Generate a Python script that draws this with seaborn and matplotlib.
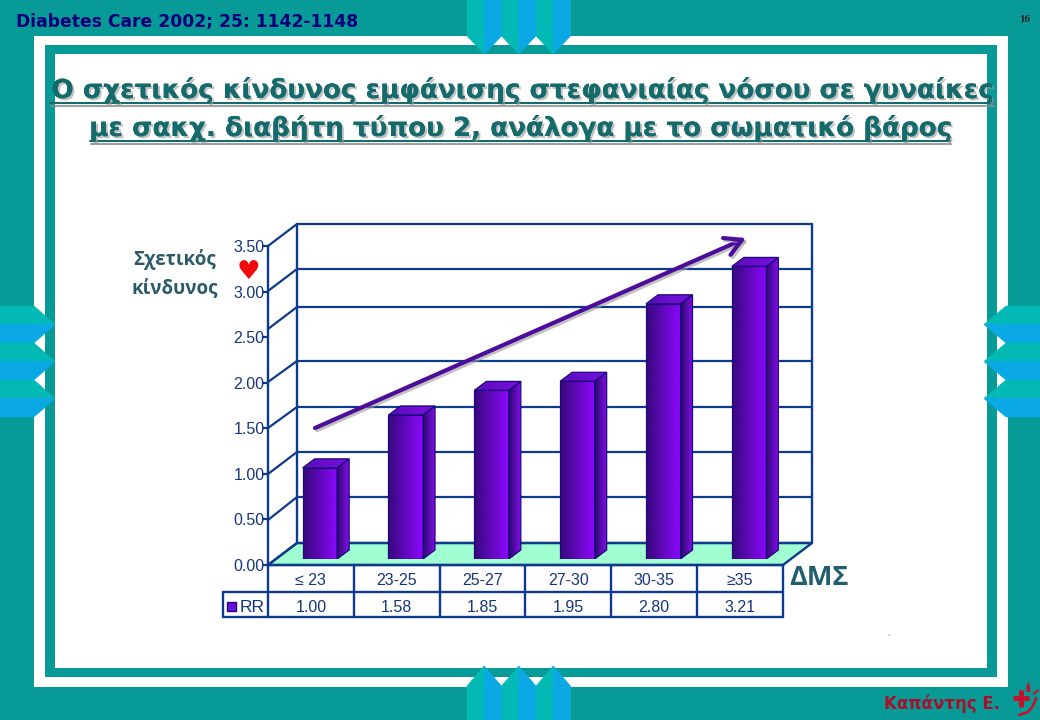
import numpy as np
import pandas as pd
import seaborn as sb
import matplotlib.pyplot as plt
import matplotlib.patheffects as pe
from matplotlib.colors import to_rgb
from matplotlib.patches import Polygon, Rectangle

# ### data ###
categories = ['\u2264 23', '23-25', '25-27', '27-30', '30-35', '\u226535']
rr_values = [1.00, 1.58, 1.85, 1.95, 2.80, 3.21]
y_ticks = [0.0, 0.5, 1.0, 1.5, 2.0, 2.5, 3.0, 3.5]
y_tick_labels = ['0.00', '0.50', '1.00', '1.50', '2.00', '2.50', '3.00', '3.50']
series_name = 'RR'
title_lines = ['Ο σχετικός κίνδυνος εμφάνισης στεφανιαίας νόσου σε γυναίκες',
               'με σακχ. διαβήτη τύπου 2, ανάλογα με το σωματικό βάρος']

W, H = 1040, 720
TEAL = '#079a96'
GREEN = '#02b9b5'
BLUE = '#0aa9e6'
NAVY = '#0d3a8c'
TEXT_BLUE = '#17357f'

sb.set_theme(style='white')
plt.rcParams['font.family'] = ['Liberation Sans', 'DejaVu Sans']

fig = plt.figure(figsize=(W / 100, H / 100), dpi=100, facecolor=TEAL)


def px_axes(left, top, right, bottom, zorder):
    return fig.add_axes([left / W, 1 - bottom / H, (right - left) / W, (bottom - top) / H],
                        zorder=zorder, facecolor='none')


def flat(points, color):
    bg.add_patch(Polygon(points, fc=color, ec=color, lw=0.4))


# ### slide background ###
bg = px_axes(0, 0, W, H, 0)
bg.set_xlim(0, W)
bg.set_ylim(H, 0)
bg.axis('off')

bg.add_patch(Rectangle((34, 36), 974, 651, fc='white', ec='none'))
bg.add_patch(Rectangle((45, 45), 952, 632, fc=TEAL, ec='none'))
bg.add_patch(Rectangle((54.5, 53.5), 932.5, 614.5, fc='white', ec='none'))
bg.add_patch(Rectangle((887.5, 634), 3, 2, fc='#dddddd', ec='none'))

# top and bottom pentagons
for left in [467, 501.5, 536]:
    mid = left + 17.25
    right = left + 34.5
    flat([(left, 0), (mid, 0), (mid, 54), (left, 36)], GREEN)
    flat([(mid, 0), (right, 0), (right, 36), (mid, 54)], BLUE)
    flat([(left, 720), (mid, 720), (mid, 666), (left, 686)], GREEN)
    flat([(mid, 720), (right, 720), (right, 686), (mid, 666)], BLUE)

# side pentagons
for top in [306, 343, 380]:
    mid = top + 18.5
    bot = top + 37
    flat([(0, top), (34, top), (55, mid), (0, mid)], GREEN)
    flat([(0, mid), (55, mid), (34, bot), (0, bot)], BLUE)
    flat([(1040, top), (1006, top), (984, mid), (1040, mid)], GREEN)
    flat([(1040, mid), (984, mid), (1006, bot), (1040, bot)], BLUE)

# ### 3d frame of the chart ###
back_px = [543, 497, 452, 407, 361, 307, 269, 224]
front_px = [565, 520, 474, 428, 382, 329, 291, 246]

bg.add_patch(Polygon([(268, 565), (297, 543), (812, 543), (783, 565)],
                     fc='#a0ffd0', ec=NAVY, lw=1.7, zorder=2))
for fp, bp in zip(front_px, back_px):
    bg.plot([268, 297], [fp, bp], color=NAVY, lw=1.6, zorder=3)
    bg.plot([297, 812], [bp, bp], color=NAVY, lw=1.6, zorder=3)
bg.plot([297, 297], [224, 543], color=NAVY, lw=1.7, zorder=3)
bg.plot([812, 812], [224, 543], color=NAVY, lw=1.7, zorder=3)

# ### axis with the ticks, front edge of the chart ###
ax = px_axes(268, 246, 783, 565, 1)
ax.set_xlim(-0.5, 5.5)
ax.set_ylim(0, 3.5)
ax.set_yticks(y_ticks)
ax.set_yticklabels(y_tick_labels, fontsize=11.5, color=TEXT_BLUE)
ax.set_xticks(range(len(categories)))
ax.set_xticklabels(categories, fontsize=11.5, color=TEXT_BLUE)
ax.tick_params(axis='y', length=4, width=1.6, color=NAVY, pad=-1.5, left=True)
ax.tick_params(axis='x', length=0, pad=6)
for name in ['top', 'right']:
    ax.spines[name].set_visible(False)
for name in ['left', 'bottom']:
    ax.spines[name].set_color(NAVY)
    ax.spines[name].set_linewidth(1.7)

# ### bars ###
ax_bar = px_axes(277, 240, 792, 559, 2)
data = pd.DataFrame({'bmi': categories, 'rr': rr_values})
sb.barplot(data=data, x='bmi', y='rr', width=0.402, color='#6a10c8', ax=ax_bar)
ax_bar.set_xlim(-0.5, 5.5)
ax_bar.set_ylim(0, 3.5)
ax_bar.axis('off')

depth_x = 12 / 85.83
depth_y = 9 / 91.14
EDGE = '#1c0a7c'


def gradient_face(points, c0, c1):
    points = np.array(points)
    ramp = np.linspace(0, 1, 64)[None, :, None]
    rgb = np.array(to_rgb(c0)) * (1 - ramp) + np.array(to_rgb(c1)) * ramp
    extent = [points[:, 0].min(), points[:, 0].max(), points[:, 1].min(), points[:, 1].max()]
    im = ax_bar.imshow(rgb, extent=extent, aspect='auto', zorder=3, interpolation='bilinear')
    outline = Polygon(points, fc='none', ec=EDGE, lw=0.9, zorder=4)
    ax_bar.add_patch(outline)
    im.set_clip_path(outline)


for bar in ax_bar.patches[:len(categories)]:
    x0 = bar.get_x()
    x1 = x0 + bar.get_width()
    top = bar.get_height()
    gradient_face([(x0, 0), (x1, 0), (x1, top), (x0, top)], '#36087a', '#8c08ff')
    gradient_face([(x1, 0), (x1 + depth_x, depth_y), (x1 + depth_x, top + depth_y), (x1, top)],
                  '#2c0a6c', '#8a0cf8')
    gradient_face([(x0, top), (x1, top), (x1 + depth_x, top + depth_y), (x0 + depth_x, top + depth_y)],
                  '#5c0cb8', '#7a10e4')
    bar.set_visible(False)

ax_bar.set_xlim(-0.5, 5.5)
ax_bar.set_ylim(0, 3.5)

# ### overlay: table, arrow, texts ###
over = px_axes(0, 0, W, H, 3)
over.set_xlim(0, W)
over.set_ylim(H, 0)
over.axis('off')

col_edges = [268 + 85.83 * i for i in range(len(categories) + 1)]
over.plot([268, 268], [565, 617], color=NAVY, lw=1.7)
over.plot([223, 783], [592, 592], color=NAVY, lw=1.7)
over.plot([223, 783], [617, 617], color=NAVY, lw=1.7)
over.plot([223, 223], [592, 617], color=NAVY, lw=1.7)
for edge in col_edges[1:]:
    over.plot([edge, edge], [565, 617], color=NAVY, lw=1.7)
for i, value in enumerate(rr_values):
    over.text((col_edges[i] + col_edges[i + 1]) / 2, 607, f'{value:.2f}', fontsize=11.5,
              color=TEXT_BLUE, ha='center', va='center')
over.add_patch(Rectangle((226.5, 602), 9, 9, fc='#6a10e0', ec='#1c0a7c', lw=1))
over.text(240, 608, series_name, fontsize=12.5, color=TEXT_BLUE, ha='left', va='center')

# trend arrow
shadow = [pe.SimpleLineShadow(offset=(1.5, -1.5), shadow_color='#999999', alpha=0.6), pe.Normal()]
over.annotate('', xy=(746, 238), xytext=(315, 428),
              arrowprops=dict(arrowstyle='->,head_length=1.0,head_width=0.55', color='#4c0c9c',
                              lw=3, shrinkA=0, shrinkB=0, path_effects=shadow))

# title with shadow and underline
title_color = '#156b6b'
title_shadow = [pe.withSimplePatchShadow(offset=(1.5, -1.5), shadow_rgbFace='#999999', alpha=0.6), pe.Normal()]
over.text(522, 90, title_lines[0], fontsize=18.85, fontweight='bold', family='DejaVu Sans',
          color=title_color, ha='center', va='center', path_effects=title_shadow)
over.text(520, 128, title_lines[1], fontsize=18.85, fontweight='bold', family='DejaVu Sans',
          color=title_color, ha='center', va='center', path_effects=title_shadow)
line_shadow = [pe.SimpleLineShadow(offset=(1, -2), shadow_color='#888888', alpha=0.8), pe.Normal()]
over.plot([50, 993], [103, 103], color=title_color, lw=1.5, path_effects=line_shadow)
over.plot([90, 950], [141, 141], color=title_color, lw=1.5, path_effects=line_shadow)

# corner and axis texts
over.text(16, 22, 'Diabetes Care 2002; 25: 1142-1148', fontsize=12.3, fontweight='bold',
          family='DejaVu Sans', color='#00007a', ha='left', va='center')
over.text(1025, 19, '16', fontsize=8, fontweight='bold', family='Liberation Serif',
          color='#222222', ha='center', va='center')
over.text(175, 259, 'Σχετικός', fontsize=13.5, fontweight='bold', family='Open Sans',
          color='#2a5a68', ha='center', va='center')
over.text(175, 288, 'κίνδυνος', fontsize=13.5, fontweight='bold', family='Open Sans',
          color='#2a5a68', ha='center', va='center')
over.text(819.5, 578, 'ΔΜΣ', fontsize=19.5, fontweight='bold', family='Open Sans',
          color='#1f5f6f', ha='center', va='center')
over.text(248, 272, '\u2665', fontsize=19, family='DejaVu Sans', color='#f00a0a',
          ha='center', va='center')
over.text(942, 704, 'Καπάντης Ε.', fontsize=12, fontweight='bold', family='DejaVu Sans',
          color='#a8102a', ha='center', va='center')

# logo
logo_red = '#c8102a'
over.plot([1013, 1029], [698, 698], color=logo_red, lw=3.5, solid_capstyle='butt')
over.plot([1020.5, 1020.5], [690, 707], color=logo_red, lw=3.5, solid_capstyle='butt')
over.plot([1019, 1028, 1033, 1036], [715, 712, 706, 698], color=logo_red, lw=1.8)
over.add_patch(Polygon([(1026.5, 692), (1026.5, 686), (1028, 682), (1030, 686), (1030, 692)], fc=logo_red, ec='none'))
over.add_patch(Polygon([(1032, 694), (1038, 689), (1039, 691), (1034, 695)], fc=logo_red, ec='none'))

fig.savefig('out.png', dpi=100, facecolor=TEAL)
plt.close()
